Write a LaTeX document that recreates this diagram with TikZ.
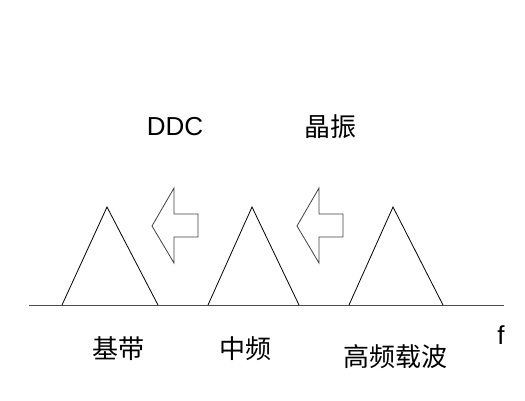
\documentclass[tikz,border=0pt]{standalone}
\usepackage{fontspec}
\setmainfont{Liberation Sans}
\newfontfamily\cjk{Noto Sans CJK SC}
\tikzset{
	lbl/.style={inner sep=0pt, font=\fontsize{26}{30}\selectfont},
	peak/.style={line width=0.8pt, black},
	shiftarrow/.style={line width=0.8pt, black!75}
}
\begin{document}
\begin{tikzpicture}[x=1pt, y=-1pt]
		\useasboundingbox (0, 0) rectangle (525, 400);
		\draw[line width=1pt, black!70] (29, 305) -- (504, 305);
		\foreach \l/\t/\r in {62/107/158, 208/252/299, 349/393/443}{
			\draw[peak] (\l, 305) -- (\t, 207) -- (\r, 305);
		}
		\foreach \x in {152, 297}{
			\draw[shiftarrow] (\x, 226) -- (\x + 22, 188) -- (\x + 22, 214) -- (\x + 46, 214)
				-- (\x + 46, 237) -- (\x + 22, 237) -- (\x + 22, 263) -- cycle;
		}
		\node[lbl] (ddc) at (175, 127) {DDC};
		\node[lbl] (xtal) at (330, 127) {\cjk 晶振};
		\node[lbl] (base) at (118, 349) {\cjk 基带};
		\node[lbl] (mid) at (245, 349) {\cjk 中频};
		\node[lbl] (rf) at (395, 357) {\cjk 高频载波};
		\node[lbl] (freq) at (501, 335) {f};
	\end{tikzpicture}
\end{document}
